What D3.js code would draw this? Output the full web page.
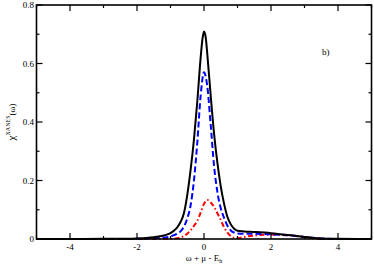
<!DOCTYPE html>
<html>
<head>
<meta charset="utf-8">
<script src="https://cdn.jsdelivr.net/npm/d3@7"></script>
<style>
    body { margin: 0; background: #fff; }
    svg { display: block; font-family: "Liberation Serif", "Times New Roman", "DejaVu Serif", serif; }
    .tick-label { font-size: 9px; fill: #000; }
</style>
</head>
<body>
<div id="chart"></div>
<script>
// x grid (omega + mu - E_h) and the three curves
const blackX = [-5, -4, -3, -2.5, -2, -1.5, -1.2, -1, -0.9, -0.8, -0.7, -0.6, -0.5, -0.4, -0.3, -0.2, -0.1, -0.05, 0, 0.05, 0.1, 0.2, 0.3, 0.4, 0.5, 0.6, 0.7, 0.8, 0.9, 1.0, 1.2, 1.5, 2.0, 2.5, 3.0, 3.5, 4, 5];
const blackY = [0, 0, 0.0005, 0.001, 0.002, 0.006, 0.012, 0.02, 0.028, 0.04, 0.058, 0.088, 0.15, 0.236, 0.34, 0.47, 0.62, 0.68, 0.709, 0.69, 0.63, 0.49, 0.36, 0.26, 0.18, 0.12, 0.075, 0.05, 0.035, 0.028, 0.026, 0.024, 0.02, 0.014, 0.007, 0.002, 0.0005, 0];

const blueX = [-5, -3, -2, -1.5, -1.2, -1, -0.8, -0.7, -0.6, -0.5, -0.4, -0.3, -0.2, -0.1, 0, 0.1, 0.2, 0.3, 0.4, 0.5, 0.6, 0.7, 0.8, 0.9, 1.0, 1.2, 1.5, 2, 2.5, 3, 3.5, 4, 5];
const blueY = [0, 0, 0.0005, 0.002, 0.005, 0.009, 0.018, 0.026, 0.042, 0.07, 0.115, 0.2, 0.33, 0.49, 0.57, 0.52, 0.39, 0.25, 0.16, 0.105, 0.072, 0.045, 0.029, 0.022, 0.019, 0.018, 0.018, 0.016, 0.013, 0.007, 0.002, 0, 0];

const redX = [-5, -2, -1, -0.8, -0.6, -0.5, -0.4, -0.3, -0.2, -0.1, 0, 0.1, 0.2, 0.3, 0.4, 0.5, 0.6, 0.7, 0.8, 0.9, 1.0, 1.2, 1.5, 2, 2.5, 3, 3.3, 3.5, 5];
const redY = [0, 0, 0.001, 0.003, 0.01, 0.018, 0.03, 0.045, 0.062, 0.09, 0.12, 0.133, 0.125, 0.11, 0.088, 0.065, 0.04, 0.022, 0.01, 0.004, 0.003, 0.007, 0.012, 0.015, 0.013, 0.007, 0.002, 0, 0];

const xMajorTicks = [-4, -2, 0, 2, 4];
const xMinorTicks = [-5, -3, -1, 1, 3, 5];
const yMajorTicks = [0, 0.2, 0.4, 0.6, 0.8];
const yMinorTicks = [0.1, 0.3, 0.5, 0.7];

const width = 374;
const height = 267;
const plot = { left: 36.5, right: 371.5, top: 5, bottom: 239 };

const svg = d3.select('#chart').append('svg')
    .attr('width', width)
    .attr('height', height);

const xScale = d3.scaleLinear().domain([-5, 5]).range([plot.left, plot.right]);
const yScale = d3.scaleLinear().domain([0, 0.8]).range([plot.bottom, plot.top]);

const line = d3.line()
    .x(d => xScale(d[0]))
    .y(d => yScale(d[1]))
    .curve(d3.curveMonotoneX);

function drawCurve(xs, ys, color, dash) {
    svg.append('path')
        .datum(xs.map((x, i) => [x, ys[i]]))
        .attr('d', line)
        .attr('fill', 'none')
        .attr('stroke', color)
        .attr('stroke-width', 2)
        .attr('stroke-dasharray', dash)
        .attr('stroke-linejoin', 'round');
}

drawCurve(redX, redY, '#ff0000', '5,2.5,1.5,2.5');
drawCurve(blueX, blueY, '#0000ff', '6,3');
drawCurve(blackX, blackY, '#000000', null);

// ticks (inward on all four sides)
const tickG = svg.append('g').attr('stroke', '#000').attr('stroke-width', 1.2);
function xTicks(values, len) {
    values.forEach(v => {
        tickG.append('line').attr('x1', xScale(v)).attr('x2', xScale(v))
            .attr('y1', plot.bottom).attr('y2', plot.bottom - len);
        tickG.append('line').attr('x1', xScale(v)).attr('x2', xScale(v))
            .attr('y1', plot.top).attr('y2', plot.top + len);
    });
}
function yTicks(values, len) {
    values.forEach(v => {
        tickG.append('line').attr('x1', plot.left).attr('x2', plot.left + len)
            .attr('y1', yScale(v)).attr('y2', yScale(v));
        tickG.append('line').attr('x1', plot.right).attr('x2', plot.right - len)
            .attr('y1', yScale(v)).attr('y2', yScale(v));
    });
}
xTicks(xMajorTicks, 6);
xTicks(xMinorTicks, 3);
yTicks(yMajorTicks, 6);
yTicks(yMinorTicks, 3);

svg.append('rect')
    .attr('x', plot.left).attr('y', plot.top)
    .attr('width', plot.right - plot.left).attr('height', plot.bottom - plot.top)
    .attr('fill', 'none').attr('stroke', '#000').attr('stroke-width', 1.6);

// tick labels
svg.append('g').selectAll('text')
    .data(xMajorTicks)
    .enter()
    .append('text')
    .attr('class', 'tick-label')
    .attr('x', d => xScale(d))
    .attr('y', plot.bottom + 11)
    .attr('text-anchor', 'middle')
    .text(d => d < 0 ? '-' + Math.abs(d) : d);

svg.append('g').selectAll('text')
    .data(yMajorTicks)
    .enter()
    .append('text')
    .attr('class', 'tick-label')
    .attr('x', plot.left - 2.5)
    .attr('y', d => yScale(d) + 3.2)
    .attr('text-anchor', 'end')
    .text(d => d === 0 ? '0' : d.toFixed(1));

// axis titles
const xTitle = svg.append('text')
    .attr('x', xScale(0))
    .attr('y', 260.5)
    .attr('text-anchor', 'middle')
    .attr('font-size', '9px');
xTitle.append('tspan').text('ω + μ - E');
xTitle.append('tspan').attr('font-size', '6px').attr('dy', 2.5).text('h');

const yTitle = svg.append('text')
    .attr('transform', `translate(15, ${yScale(0.4)}) rotate(-90)`)
    .attr('text-anchor', 'middle')
    .attr('font-size', '9px');
yTitle.append('tspan').attr('font-size', '11px').text('χ');
yTitle.append('tspan').attr('font-size', '6px').attr('dy', -5).text('XANES');
yTitle.append('tspan').attr('dy', 5).text('(ω)');

svg.append('text')
    .attr('x', 322)
    .attr('y', 55)
    .attr('font-size', '9px')
    .text('b)');
</script>
</body>
</html>
